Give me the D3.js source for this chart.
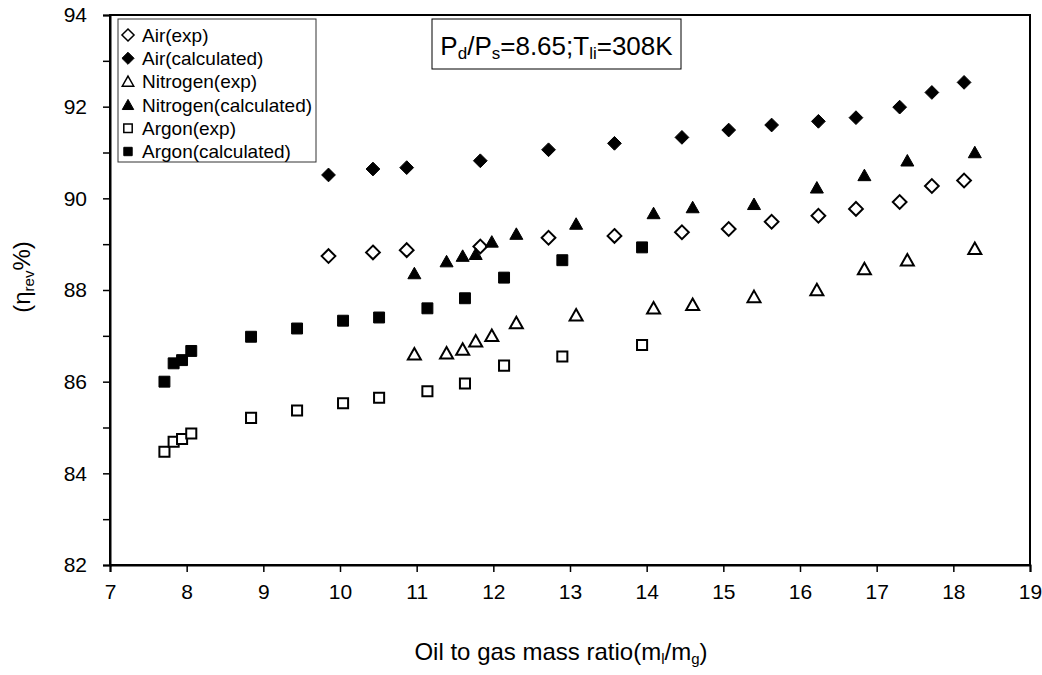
<!DOCTYPE html>
<html>
<head>
<meta charset="utf-8">
<script src="https://cdn.jsdelivr.net/npm/d3@7"></script>
<style>
body{margin:0;background:#fff;}
text{font-family:"Liberation Sans",Arial,sans-serif;fill:#000;}
</style>
</head>
<body>
<div id="chart"></div>
<script>
const width=1042;
const height=675;
const margin={top:15,right:12,bottom:110,left:110};

// Air
const airX=[9.85,10.43,10.87,11.83,12.72,13.58,14.46,15.07,15.63,16.24,16.73,17.30,17.72,18.14];
const airExp=[88.74,88.82,88.87,88.95,89.14,89.18,89.26,89.33,89.49,89.62,89.77,89.92,90.27,90.39];
const airCalc=[90.51,90.64,90.67,90.82,91.06,91.20,91.33,91.49,91.60,91.68,91.76,91.99,92.31,92.53];
// Nitrogen
const n2X=[10.97,11.39,11.60,11.77,11.98,12.30,13.08,14.09,14.60,15.40,16.22,16.84,17.40,18.28];
const n2Exp=[86.60,86.62,86.70,86.88,87.00,87.28,87.45,87.60,87.68,87.85,88.00,88.46,88.65,88.90];
const n2Calc=[88.36,88.62,88.74,88.78,89.05,89.22,89.44,89.67,89.80,89.87,90.23,90.50,90.82,91.00];
// Argon
const arX=[7.71,7.83,7.94,8.06,8.84,9.44,10.04,10.51,11.14,11.63,12.14,12.90,13.94];
const arExp=[84.47,84.69,84.75,84.87,85.21,85.37,85.53,85.65,85.79,85.96,86.35,86.55,86.80];
const arCalc=[86.00,86.40,86.47,86.67,86.98,87.16,87.33,87.40,87.60,87.82,88.27,88.65,88.93];

const xTicks=d3.range(7,20,1);
const yTicks=d3.range(82,95,1);
const yLabels=d3.range(82,95,2);

const series=[
    {name:"Air(exp)",xs:airX,ys:airExp,shape:"diamond",filled:false},
    {name:"Air(calculated)",xs:airX,ys:airCalc,shape:"diamond",filled:true},
    {name:"Nitrogen(exp)",xs:n2X,ys:n2Exp,shape:"triangle",filled:false},
    {name:"Nitrogen(calculated)",xs:n2X,ys:n2Calc,shape:"triangle",filled:true},
    {name:"Argon(exp)",xs:arX,ys:arExp,shape:"square",filled:false},
    {name:"Argon(calculated)",xs:arX,ys:arCalc,shape:"square",filled:true}
];

const svg=d3.select("#chart").append("svg")
    .attr("width",width).attr("height",height);

const x=d3.scaleLinear().domain([7,19]).range([margin.left,width-margin.right]);
const y=d3.scaleLinear().domain([82,94]).range([height-margin.bottom,margin.top]);

// marker path, s = nominal size
function marker(shape,s){
    if(shape==="diamond") return `M0,${-s*0.55}L${s*0.55},0L0,${s*0.55}L${-s*0.55},0Z`;
    if(shape==="triangle") return `M0,${-s*0.5}L${s*0.52},${s*0.42}L${-s*0.52},${s*0.42}Z`;
    return `M${-s*0.42},${-s*0.42}H${s*0.42}V${s*0.42}H${-s*0.42}Z`;
}

// frame
svg.append("rect")
    .attr("x",x(7)).attr("y",y(94))
    .attr("width",x(19)-x(7)).attr("height",y(82)-y(94))
    .attr("fill","none").attr("stroke","#000").attr("stroke-width",2);

// axes
svg.append("g")
    .attr("transform",`translate(0,${y(82)})`)
    .call(d3.axisBottom(x).tickValues(xTicks).tickSize(7).tickPadding(12).tickFormat(d3.format("d")))
    .call(g=>g.select(".domain").attr("stroke-width",2))
    .call(g=>g.selectAll(".tick line").attr("stroke-width",1.5))
    .call(g=>g.selectAll(".tick text").attr("font-size",21).attr("font-family","Liberation Sans,Arial,sans-serif"));

svg.append("g")
    .attr("transform",`translate(${x(7)},0)`)
    .call(d3.axisLeft(y).tickValues(yTicks).tickSize(7).tickPadding(16)
        .tickFormat(d=>yLabels.includes(d)?d:""))
    .call(g=>g.select(".domain").attr("stroke-width",2))
    .call(g=>g.selectAll(".tick line").attr("stroke-width",1.5))
    .call(g=>g.selectAll(".tick text").attr("font-size",21).attr("font-family","Liberation Sans,Arial,sans-serif"));

// points
series.forEach(s=>{
    svg.append("g").selectAll("path")
        .data(s.xs.map((d,i)=>({x:d,y:s.ys[i]})))
        .enter().append("path")
        .attr("transform",d=>`translate(${x(d.x)},${y(d.y)})`)
        .attr("d",marker(s.shape,s.shape==="square"?(s.filled?13:12):12.5))
        .attr("fill",s.filled?"#000":"#fff")
        .attr("stroke","#000")
        .attr("stroke-width",s.filled?1:2);
});

// legend
const leg=svg.append("g").attr("transform","translate(118,19)");
leg.append("rect").attr("width",198).attr("height",143)
    .attr("fill","#fff").attr("stroke","#333").attr("stroke-width",1);
series.forEach((s,i)=>{
    const row=leg.append("g").attr("transform",`translate(10,${16+i*23.3})`);
    row.append("path").attr("d",marker(s.shape,s.shape==="square"?10:11))
        .attr("fill",s.filled?"#000":"#fff").attr("stroke","#000").attr("stroke-width",s.filled?1:1.5);
    row.append("text").attr("x",14).attr("dy","0.36em").attr("font-size",19).text(s.name);
});

// annotation box
const ann=svg.append("g").attr("transform","translate(432,19)");
ann.append("rect").attr("width",249).attr("height",50)
    .attr("fill","#fff").attr("stroke","#000").attr("stroke-width",1);
const at=ann.append("text").attr("x",124.5).attr("y",36).attr("text-anchor","middle").attr("font-size",26);
at.append("tspan").text("P");
at.append("tspan").attr("font-size",17).attr("dy",4).text("d");
at.append("tspan").attr("dy",-4).text("/P");
at.append("tspan").attr("font-size",17).attr("dy",4).text("s");
at.append("tspan").attr("dy",-4).text("=8.65;T");
at.append("tspan").attr("font-size",17).attr("dy",4).text("li");
at.append("tspan").attr("dy",-4).text("=308K");

// x title
const xt=svg.append("text").attr("x",561).attr("y",660)
    .attr("text-anchor","middle").attr("font-size",24);
xt.append("tspan").text("Oil to gas mass ratio(m");
xt.append("tspan").attr("font-size",15).attr("dy",4).text("l");
xt.append("tspan").attr("dy",-4).text("/m");
xt.append("tspan").attr("font-size",15).attr("dy",4).text("g");
xt.append("tspan").attr("dy",-4).text(")");

// y title
const yt=svg.append("text").attr("transform","translate(30,277) rotate(-90)")
    .attr("text-anchor","middle").attr("font-size",24);
yt.append("tspan").text("(η");
yt.append("tspan").attr("font-size",15).attr("dy",4).text("rev");
yt.append("tspan").attr("dy",-4).text("%)");
</script>
</body>
</html>
